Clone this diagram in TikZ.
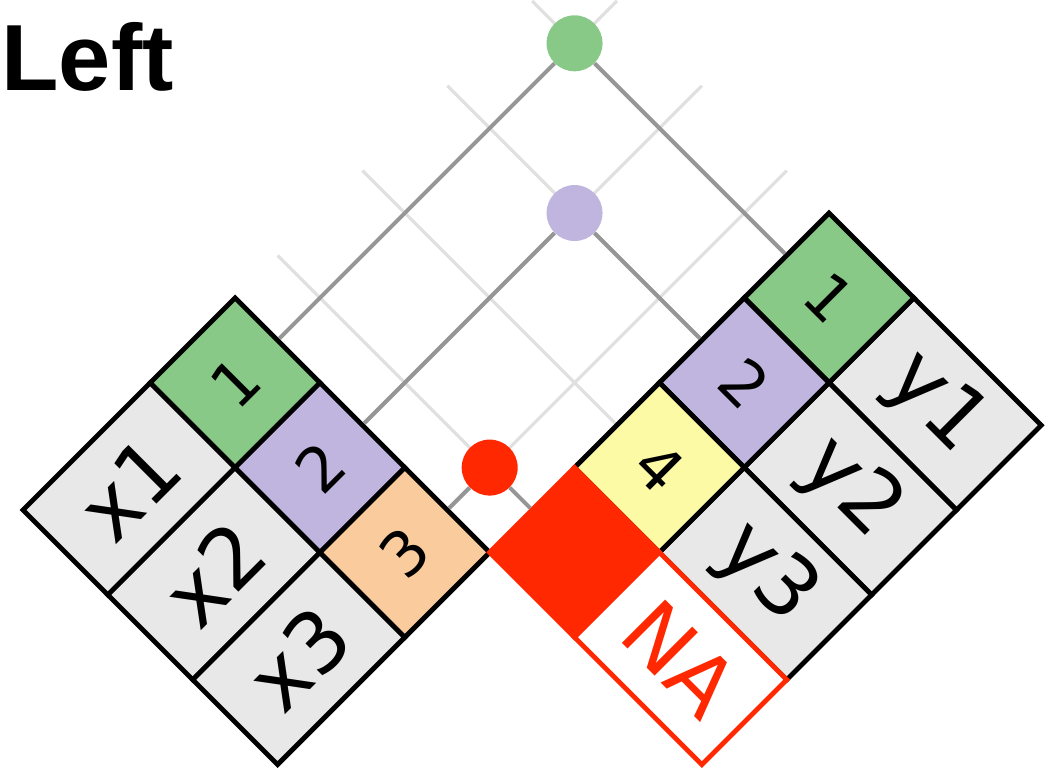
\documentclass[tikz,border=0pt]{standalone}
\usepackage{fontspec}
\setmainfont{DejaVu Sans}
\newfontfamily\headfont{Liberation Sans}
\definecolor{keygreen}{RGB}{136,201,136}
\definecolor{keypurple}{RGB}{192,181,222}
\definecolor{keyorange}{RGB}{250,203,157}
\definecolor{keyyellow}{RGB}{253,250,165}
\definecolor{cellgray}{RGB}{232,232,232}
\definecolor{nared}{RGB}{255,40,0}
\definecolor{linkgray}{RGB}{150,150,150}
\definecolor{guidegray}{RGB}{224,224,224}

\begin{document}
\begin{tikzpicture}[x=0.5pt,y=-0.5pt,
    cell/.style={draw, line width=2.4pt, fill=cellgray, minimum height=60pt,
        inner sep=0pt, transform shape, font=\fontsize{42}{42}\selectfont},
    keycell/.style={cell, minimum width=60pt, font=\fontsize{31}{31}\selectfont},
    valcell/.style={cell, minimum width=90pt},
    dot/.style={circle, minimum size=28pt, inner sep=0pt},
    link/.style={draw=linkgray, line width=2pt},
    guide/.style={draw=guidegray, line width=1.6pt}]

    \useasboundingbox (0,0) rectangle (1051,778);
    \node[anchor=base west, inner sep=0pt,
        font=\headfont\bfseries\fontsize{47}{56}\selectfont] (title) at (1,90) {Left};

    \begin{scope}[shift={(23,510)}, rotate=45]
    % key guides
    \foreach \r in {60,180,300} \draw[guide] (300,\r) -- (780,\r);
    \foreach \c in {360,480,600,720} \draw[guide] (\c,0) -- (\c,360);

    % x
    \node[valcell] (x1) at (90,60) {x1};
    \node[valcell] (x2) at (90,180) {x2};
    \node[valcell] (x3) at (90,300) {x3};
    \node[keycell, fill=keygreen] (lk1) at (240,60) {1};
    \node[keycell, fill=keypurple] (lk2) at (240,180) {2};
    \node[keycell, fill=keyorange] (lk3) at (240,300) {3};

    % y
    \node[valcell, rotate=-90] (y1) at (720,570) {y1};
    \node[valcell, rotate=-90] (y2) at (600,570) {y2};
    \node[valcell, rotate=-90] (y3) at (480,570) {y3};
    \node[keycell, rotate=-90, fill=keygreen] (rk1) at (720,420) {1};
    \node[keycell, rotate=-90, fill=keypurple] (rk2) at (600,420) {2};
    \node[keycell, rotate=-90, fill=keyyellow] (rk4) at (480,420) {4};
    \node[keycell, rotate=-90, draw=nared, fill=nared] (rkna) at (360,420) {};
    \node[valcell, rotate=-90, draw=nared, fill=white, text=nared] (yna) at (360,570) {NA};

    % matches
    \node[dot, fill=keygreen] (m1) at (720,60) {};
    \node[dot, fill=keypurple] (m2) at (600,180) {};
    \node[dot, fill=nared] (m3) at (360,300) {};
    \draw[link] (m1) -- (lk1.east) (m1) -- (rk1.west);
    \draw[link] (m2) -- (lk2.east) (m2) -- (rk2.west);
    \draw[link] (m3) -- (lk3.east) (m3) -- (rkna.west);
    \end{scope}

\end{tikzpicture}
\end{document}
